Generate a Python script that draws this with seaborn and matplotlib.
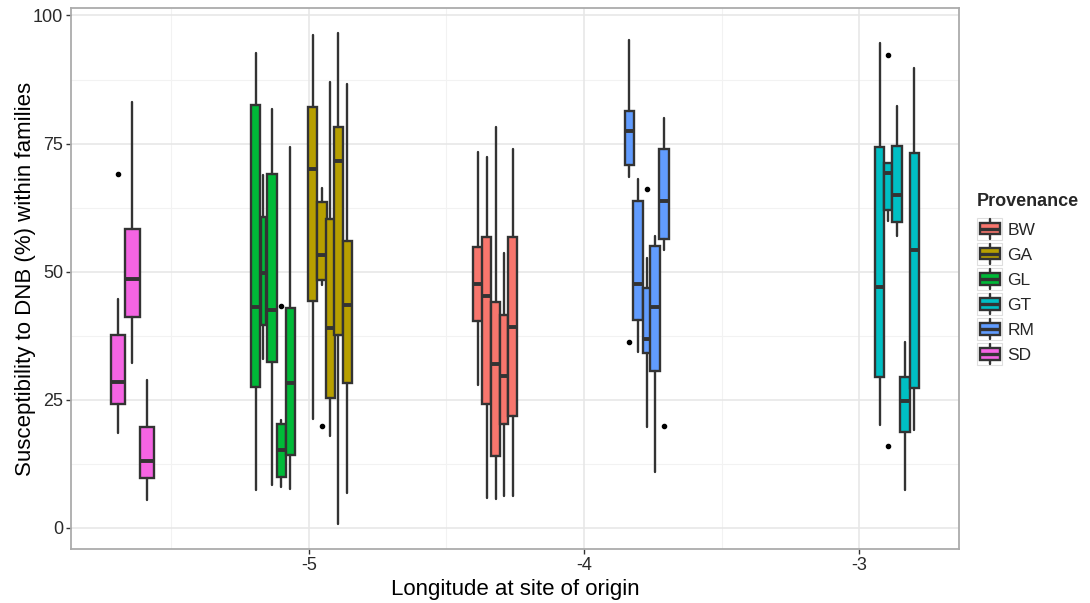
import matplotlib
matplotlib.use("Agg")
import matplotlib.pyplot as plt
import seaborn as sns
import pandas as pd
from matplotlib.legend_handler import HandlerBase
from matplotlib.patches import Rectangle, Patch
from matplotlib.lines import Line2D

# ---------------- data ----------------
provenance_order = ["BW", "GA", "GL", "GT", "RM", "SD"]
palette_hex = ["#F8766D", "#B79F00", "#00BA38", "#00BFC4", "#619CFF", "#F564E3"]

provenance = (["SD"] * 3 + ["GL"] * 5 + ["GA"] * 5 + ["BW"] * 5 +
              ["RM"] * 5 + ["GT"] * 5)
longitude = [-5.6945, -5.6418, -5.5891,
             -5.1945, -5.1662, -5.1345, -5.1007, -5.0680,
             -4.9865, -4.9527, -4.9225, -4.8935, -4.8607,
             -4.3865, -4.3538, -4.3211, -4.2920, -4.2593,
             -3.8353, -3.8036, -3.7709, -3.7418, -3.7091,
             -2.9247, -2.8935, -2.8618, -2.8316, -2.7989]
whisker_low = [18.5, 32.2, 5.4,
               7.4, 32.9, 8.4, 7.9, 7.6,
               21.3, 47.4, 18.0, 0.7, 6.7,
               27.8, 5.9, 5.6, 6.3, 6.3,
               68.5, 34.3, 19.6, 10.8, 54.2,
               20.0, 59.9, 57.0, 7.4, 19.1]
q1 = [24.1, 41.1, 9.8,
      27.5, 39.5, 32.4, 10.0, 14.3,
      44.2, 48.3, 25.3, 37.7, 28.2,
      40.4, 24.1, 14.1, 20.3, 21.9,
      70.8, 40.5, 34.2, 30.6, 56.3,
      29.4, 62.0, 59.6, 18.7, 27.3]
median = [28.5, 48.5, 13.0,
          43.1, 49.8, 42.5, 15.2, 28.2,
          70.1, 53.2, 38.9, 71.5, 43.4,
          47.5, 45.3, 31.9, 29.7, 39.1,
          77.5, 47.5, 36.9, 43.1, 63.8,
          47.0, 69.2, 65.0, 24.7, 54.2]
q3 = [37.6, 58.3, 19.6,
      82.6, 60.7, 69.1, 20.3, 42.9,
      82.1, 63.5, 60.2, 78.2, 56.0,
      54.8, 56.8, 44.0, 41.5, 56.8,
      81.4, 63.7, 46.9, 55.0, 73.9,
      74.3, 71.2, 74.6, 29.4, 73.1]
whisker_high = [44.6, 83.2, 28.8,
                92.7, 68.8, 81.7, 21.1, 74.4,
                96.2, 66.3, 87.1, 96.6, 86.7,
                73.3, 72.3, 78.2, 53.6, 74.0,
                95.3, 68.1, 52.7, 57.0, 79.9,
                94.6, 71.2, 82.4, 36.3, 89.8]
outliers = [[69.0], [], [],
            [], [], [], [43.2], [],
            [], [19.8], [], [], [],
            [], [], [], [], [],
            [36.3], [], [66.2], [], [19.8],
            [], [92.2, 15.9], [], [], []]
# relative box widths (varwidth-like, in longitude units)
box_width = [0.0527, 0.0527, 0.0527,
             0.0345, 0.0200, 0.0345, 0.0340, 0.0340,
             0.0340, 0.0340, 0.0330, 0.0330, 0.0340,
             0.0350, 0.0340, 0.0340, 0.0280, 0.0340,
             0.0335, 0.0340, 0.0320, 0.0350, 0.0350,
             0.0340, 0.0300, 0.0340, 0.0370, 0.0330]

x_ticks = [-5, -4, -3]
y_ticks = [0, 25, 50, 75, 100]

df = pd.DataFrame({"Provenance": provenance, "lon": longitude,
                   "lo": whisker_low, "q1": q1, "med": median,
                   "q3": q3, "hi": whisker_high, "w": box_width})
df["fliers"] = outliers
df = df.sort_values("lon").reset_index(drop=True)

# ---------------- style ----------------
sns.set_style("white")
plt.rcParams["font.family"] = ["Liberation Sans", "DejaVu Sans"]
pal = dict(zip(provenance_order, sns.color_palette(palette_hex)))
EDGE = "#333333"
LW = 1.7

fig = plt.figure(figsize=(10.9, 6.03), dpi=100)
ax = fig.add_axes([70.7 / 1090, 1 - 549.3 / 603,
                   (959.3 - 70.7) / 1090, (549.3 - 8.3) / 603])

ax.set_xlim(-5.8665, -2.6353)
ax.set_ylim(-4.2, 101.4)

# grid (major + minor as in theme_bw)
for v in [12.5, 37.5, 62.5, 87.5]:
    ax.axhline(v, color="#f2f2f2", lw=0.8, zorder=0)
for v in [-5.5, -4.5, -3.5]:
    ax.axvline(v, color="#f2f2f2", lw=0.8, zorder=0)
for v in y_ticks:
    ax.axhline(v, color="#e6e6e6", lw=1.1, zorder=0.1)
for v in x_ticks:
    ax.axvline(v, color="#e6e6e6", lw=1.1, zorder=0.1)

for i, r in df.iterrows():
    stats = [{"med": r.med, "q1": r.q1, "q3": r.q3,
              "whislo": r.lo, "whishi": r.hi, "fliers": r.fliers}]
    c = pal[r.Provenance]
    ax.bxp(stats, positions=[r.lon], widths=[r.w], patch_artist=True,
           showcaps=False, manage_ticks=False, zorder=2 + i * 0.01,
           boxprops=dict(facecolor=c, edgecolor=EDGE, linewidth=LW),
           medianprops=dict(color=EDGE, linewidth=2.8, solid_capstyle="butt"),
           whiskerprops=dict(color=EDGE, linewidth=LW),
           flierprops=dict(marker="o", markerfacecolor="black",
                           markeredgecolor="black", markersize=3.0,
                           linestyle="none"))

ax.set_xticks(x_ticks)
ax.set_xticklabels([str(t) for t in x_ticks])
ax.set_yticks(y_ticks)
ax.set_yticklabels([str(t) for t in y_ticks])
ax.tick_params(axis="both", which="major", length=3.5, width=1.0,
               color=EDGE, labelsize=13, labelcolor="#2a2a2a", pad=2,
               left=True, bottom=True)

for s in ax.spines.values():
    s.set_color("#ababab")
    s.set_linewidth(1.3)

ax.set_xlabel("Longitude at site of origin", fontsize=16, color="black", labelpad=4)
ax.set_ylabel("Susceptibility to DNB (%) within families", fontsize=16,
              color="black", labelpad=-2)


# ---------------- legend ----------------
class BoxHandler(HandlerBase):
    def create_artists(self, legend, orig_handle, xdescent, ydescent,
                       width, height, fontsize, trans):
        c = orig_handle.get_facecolor()
        x0, y0 = -xdescent, -ydescent
        cx = x0 + width / 2
        bw, bh = width * 0.8, height * 0.5
        bg = Rectangle((x0, y0), width, height, facecolor="#ffffff",
                       edgecolor="#dedede", lw=0.8, transform=trans)
        wl = Line2D([cx, cx], [y0 + height * 0.06, y0 + height * 0.94],
                    color=EDGE, lw=LW, transform=trans)
        box = Rectangle((cx - bw / 2, y0 + height / 2 - bh / 2), bw, bh,
                        facecolor=c, edgecolor=EDGE, lw=LW, transform=trans)
        ml = Line2D([cx - bw / 2, cx + bw / 2], [y0 + height / 2] * 2,
                    color=EDGE, lw=2.4, solid_capstyle="butt", transform=trans)
        return [bg, wl, box, ml]


handles = [Patch(facecolor=pal[p], label=p) for p in provenance_order]
leg = fig.legend(handles=handles, labels=provenance_order,
                 handler_map={Patch: BoxHandler()},
                 loc="upper left", bbox_to_anchor=(977 / 1090, 1 - 193 / 603),
                 frameon=False, fontsize=12.5, title="Provenance",
                 title_fontproperties={"weight": "bold", "size": 13},
                 handlelength=1.45, handleheight=1.61, labelspacing=0.15,
                 handletextpad=0.3, borderpad=0, borderaxespad=0,
                 alignment="left")
leg._legend_box.sep = 5.5

fig.savefig("out.png", dpi=100)
